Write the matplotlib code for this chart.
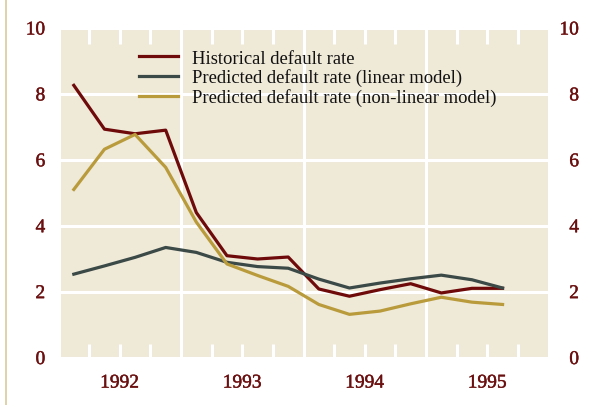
import matplotlib.pyplot as plt
import matplotlib.patheffects as pe
from matplotlib.lines import Line2D

# quarters shown on the chart
quarters = ["1992Q1", "1992Q2", "1992Q3", "1992Q4",
            "1993Q1", "1993Q2", "1993Q3", "1993Q4",
            "1994Q1", "1994Q2", "1994Q3", "1994Q4",
            "1995Q1", "1995Q2", "1995Q3"]

historical = [8.26, 6.93, 6.79, 6.90, 4.40, 3.09, 2.99, 3.05,
              2.08, 1.86, 2.06, 2.24, 1.96, 2.10, 2.10]
linear = [2.53, 2.78, 3.04, 3.34, 3.19, 2.89, 2.76, 2.71,
          2.38, 2.11, 2.26, 2.39, 2.50, 2.36, 2.11]
nonlinear = [5.10, 6.32, 6.77, 5.77, 4.11, 2.84, 2.49, 2.16,
             1.61, 1.31, 1.41, 1.63, 1.83, 1.68, 1.61]

years = [1992, 1993, 1994, 1995]
yticks = [0, 2, 4, 6, 8, 10]

labels = ["Historical default rate",
          "Predicted default rate (linear model)",
          "Predicted default rate (non-linear model)"]

# place each quarter at its middle
x = [int(q[:4]) + (int(q[-1]) - 0.5) / 4 for q in quarters]

bg = "#efe9d8"
red = "#6e0a0a"
slate = "#3b4947"
gold = "#b99b3c"
labelcol = "#6b1010"

plt.rcParams['font.family'] = ['Liberation Serif', 'DejaVu Serif']

fig = plt.figure(figsize=(5.93, 4.06), dpi=100)
W, H = 593, 406
ax = fig.add_axes([58.5 / W, (H - 361) / H, (548.5 - 58.5) / W, (361 - 29) / H])
ax.set_facecolor(bg)

ax.plot(x, historical, color=red, lw=2.3, label=labels[0])
ax.plot(x, linear, color=slate, lw=2.3, label=labels[1])
ax.plot(x, nonlinear, color=gold, lw=2.3, label=labels[2])

ax.set_xlim(years[0], years[-1] + 1)
ax.set_ylim(-0.075, 9.9)

# year boundaries as full grid lines
ax.set_xticks(years + [years[-1] + 1])
ax.set_xticklabels([])
ax.set_yticks(yticks)
ax.grid(True, color="white", lw=2.2)
ax.set_axisbelow(True)
ax.tick_params(axis='x', which='major', length=0)

# quarter ticks, labels at mid-year
qpos = [y + k / 4 for y in years for k in (1, 2, 3)]
qlab = [str(y) if k == 2 else "" for y in years for k in (1, 2, 3)]
ax.set_xticks(qpos, labels=qlab, minor=True)
ax.tick_params(axis='x', which='minor', direction='in', top=True, bottom=True,
               length=11.5, width=2.2, color='white', pad=10.5,
               labelsize=14, labelcolor=labelcol)

ax.tick_params(axis='y', length=0, pad=9.5, labelsize=14, labelcolor=labelcol)
for s in ax.spines.values():
    s.set_visible(False)

ax2 = ax.twinx()
ax2.set_ylim(ax.get_ylim())
ax2.set_yticks(yticks)
ax2.tick_params(axis='y', length=0, pad=22, labelsize=14, labelcolor=labelcol)
for t in ax2.get_yticklabels():
    t.set_horizontalalignment('right')
for s in ax2.spines.values():
    s.set_visible(False)

# slightly heavier tick numbers
heavy = [pe.withStroke(linewidth=0.3, foreground=labelcol)]
for t in ax.get_xticklabels(minor=True) + ax.get_yticklabels() + ax2.get_yticklabels():
    t.set_path_effects(heavy)

leg = ax.legend(loc='upper left', bbox_to_anchor=((139 - 58.5) / 490, 0.935),
                frameon=False, fontsize=13.4, handlelength=2.1, handletextpad=0.75,
                labelspacing=0.1, borderpad=0, borderaxespad=0)
for t in leg.get_texts():
    t.set_color("#111111")

# thin tan rule on the left edge
fig.add_artist(Line2D([6 / W, 6 / W], [0, 1], color="#d8cb9a", lw=1.2))

plt.savefig('out.png', dpi=100)
